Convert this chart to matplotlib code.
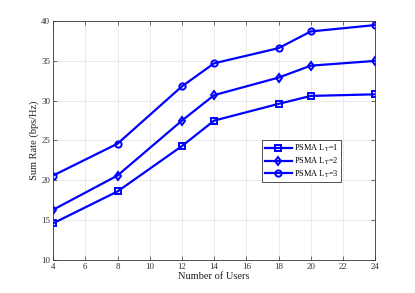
import matplotlib
matplotlib.use('Agg')
import matplotlib.pyplot as plt

# data
users = [4, 8, 12, 14, 18, 20, 24]
rate_l1 = [14.6, 18.6, 24.3, 27.5, 29.6, 30.6, 30.8]
rate_l2 = [16.3, 20.6, 27.5, 30.7, 32.9, 34.4, 35.0]
rate_l3 = [20.6, 24.6, 31.8, 34.7, 36.6, 38.7, 39.5]
labels = ['PSMA L$_\\mathrm{T}$=1', 'PSMA L$_\\mathrm{T}$=2', 'PSMA L$_\\mathrm{T}$=3']

plt.rcParams['font.family'] = ['Liberation Serif', 'DejaVu Serif']
plt.rcParams['mathtext.fontset'] = 'stix'

fig = plt.figure(figsize=(4.15, 2.93), dpi=100)
ax = fig.add_axes([0.128, 0.113, 0.776, 0.815])

blue = '#0000ff'
for ys, mk, lab in zip([rate_l1, rate_l2, rate_l3], ['s', 'd', 'o'], labels):
    ax.plot(users, ys, color=blue, linewidth=1.6, marker=mk, markersize=4.5,
            markerfacecolor='none', markeredgewidth=1.4, label=lab)

ax.set_xlim(4, 24)
ax.set_ylim(10, 40)
ax.set_xticks(range(4, 25, 2))
ax.set_yticks(range(10, 41, 5))
ax.grid(True, color='#e6e6e6', linewidth=0.6)
ax.set_axisbelow(True)
ax.tick_params(direction='in', top=True, right=True, labelsize=6.5, length=3,
               width=0.5, colors='#333333', pad=2)
for s in ax.spines.values():
    s.set_linewidth(0.6)
    s.set_color('#333333')
ax.set_xlabel('Number of Users', fontsize=7.5, labelpad=1, color='#222222')
ax.set_ylabel('Sum Rate (bps/Hz)', fontsize=7.5, labelpad=2, color='#222222')

leg = ax.legend(loc='lower left', bbox_to_anchor=(0.65, 0.326), fontsize=6,
                frameon=True, fancybox=False, edgecolor='#333333', framealpha=1,
                handlelength=3.2, handletextpad=0.3, borderpad=0.3, labelspacing=0.2,
                borderaxespad=0)
leg.get_frame().set_linewidth(0.6)

fig.savefig('out.png', dpi=100, facecolor='white')
